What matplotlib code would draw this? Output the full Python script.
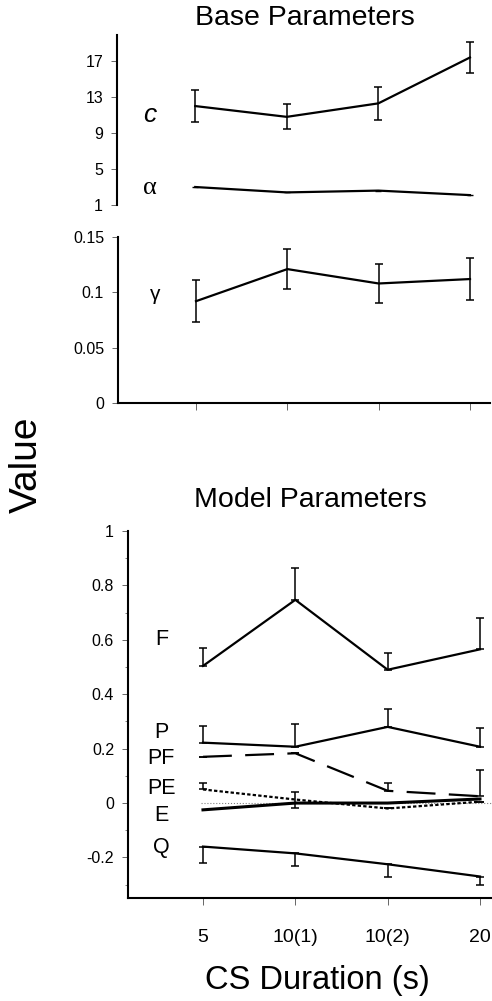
import numpy as np
import matplotlib
matplotlib.use('Agg')
import matplotlib.pyplot as plt
from matplotlib.ticker import MultipleLocator

plt.rcParams['font.family'] = ['Liberation Sans', 'DejaVu Sans']

# CS duration conditions
cond = ['5', '10(1)', '10(2)', '20']
xs = np.arange(len(cond))

# base parameters
c_val = [12.0, 10.8, 12.3, 17.4]
c_err = [1.8, 1.4, 1.8, 1.7]
alpha_val = [3.0, 2.4, 2.6, 2.1]
gamma_val = [0.092, 0.121, 0.108, 0.112]
gamma_err = [0.019, 0.018, 0.018, 0.019]

# model parameters
F_val = [0.504, 0.747, 0.49, 0.565]
F_up = [0.066, 0.118, 0.06, 0.115]
P_val = [0.222, 0.207, 0.28, 0.207]
P_up = [0.063, 0.083, 0.065, 0.068]
PF_val = [0.17, 0.183, 0.045, 0.025]
PF_up = [0.0, 0.0, 0.03, 0.095]
PE_val = [0.05, 0.013, -0.02, 0.005]
PE_up = [0.025, 0.027, 0.0, 0.0]
PE_lo = [0.0, 0.03, 0.0, 0.0]
E_val = [-0.025, 0.0, 0.0, 0.015]
Q_val = [-0.16, -0.185, -0.225, -0.27]
Q_lo = [0.06, 0.045, 0.045, 0.03]

W, H = 492, 1001
fig = plt.figure(figsize=(W / 100, H / 100), dpi=100)

def box(l, t, r, b):
    return [l / W, 1 - b / H, (r - l) / W, (b - t) / H]

lw = 1.6
ebkw = dict(color='black', lw=lw, capsize=3, elinewidth=1.1, capthick=1.1)

def style(ax, bottom=True):
    for s in ['top', 'right']:
        ax.spines[s].set_visible(False)
    ax.spines['left'].set_linewidth(1.5)
    ax.spines['bottom'].set_linewidth(1.5)
    ax.spines['bottom'].set_visible(bottom)
    ax.tick_params(axis='y', which='major', length=4, width=0.7, color='0.4', labelsize=11.5, pad=6)
    ax.tick_params(axis='y', which='minor', length=2, width=0.7, color='0.5')
    ax.tick_params(axis='x', length=5, width=0.7, color='0.4', direction='out')

# c and alpha
ax1 = fig.add_axes(box(117, 35, 490, 205))
ax1.errorbar(xs, c_val, yerr=c_err, **ebkw)
ax1.plot(xs, alpha_val, color='black', lw=lw, marker='_', ms=5)
ax1.set_ylim(1, 19.9)
ax1.set_xlim(-0.854, 3.219)
ax1.set_yticks([1, 5, 9, 13, 17])
ax1.set_xticks([])
style(ax1, bottom=False)
ax1.text(-0.5, 11.0, 'c', fontsize=19, style='italic', ha='center', va='center')
ax1.text(-0.5, 2.9, 'α', fontsize=19, ha='center', va='center', family='Liberation Serif')

# gamma
ax2 = fig.add_axes(box(118, 237, 490, 403))
ax2.errorbar(xs, gamma_val, yerr=gamma_err, **ebkw)
ax2.set_ylim(0, 0.15)
ax2.set_xlim(-0.854, 3.219)
ax2.set_yticks([0, 0.05, 0.1, 0.15])
ax2.set_yticklabels(['0', '0.05', '0.1', '0.15'])
ax2.set_xticks(xs)
ax2.set_xticklabels([])
style(ax2)
ax2.text(-0.45, 0.098, 'γ', fontsize=15, ha='center', va='center')

# model parameters
ax3 = fig.add_axes(box(128, 531, 492, 898))
ax3.axhline(0, xmin=0.2, color='0.5', lw=0.8, ls=':')
ax3.errorbar(xs, F_val, yerr=[np.zeros(4), F_up], **ebkw)
ax3.errorbar(xs, P_val, yerr=[np.zeros(4), P_up], **ebkw)
pf = ax3.errorbar(xs, PF_val, yerr=[np.zeros(4), PF_up], **ebkw)
pf.lines[0].set_dashes([13, 6])
ax3.errorbar(xs, PE_val, yerr=[PE_lo, PE_up], ls=(0, (1.5, 1)), **ebkw)
ax3.plot(xs, E_val, color='black', lw=lw + 0.6)
ax3.errorbar(xs, Q_val, yerr=[Q_lo, np.zeros(4)], **ebkw)
ax3.set_ylim(-0.349, 1.0)
ax3.set_xlim(-0.812, 3.13)
ax3.set_yticks([-0.2, 0, 0.2, 0.4, 0.6, 0.8, 1])
ax3.set_yticklabels(['-0.2', '0', '0.2', '0.4', '0.6', '0.8', '1'])
ax3.yaxis.set_minor_locator(MultipleLocator(0.1))
ax3.set_xticks(xs)
ax3.set_xticklabels(cond, fontsize=14)
ax3.tick_params(axis='x', pad=17)
style(ax3)
for name, yv in [('F', 0.6), ('P', 0.26), ('PF', 0.165), ('PE', 0.055), ('E', -0.045), ('Q', -0.165)]:
    ax3.text(-0.45, yv, name, fontsize=15.5, ha='center', va='center')

fig.text(305 / W, 1 - 18 / H, 'Base Parameters', fontsize=20.5, ha='center', va='center')
fig.text(310 / W, 1 - 500 / H, 'Model Parameters', fontsize=20.5, ha='center', va='center')
fig.text(27 / W, 1 - 465 / H, 'Value', fontsize=28, rotation=90, ha='center', va='center')
fig.text(317 / W, 1 - 980 / H, 'CS Duration (s)', fontsize=23.5, ha='center', va='center')

fig.savefig('out.png', dpi=100)
